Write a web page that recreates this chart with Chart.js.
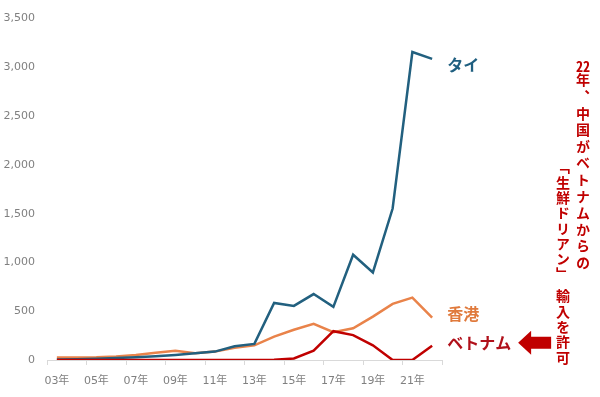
<!DOCTYPE html>
<html lang="ja">
<head>
<meta charset="utf-8">
<script src="https://cdn.jsdelivr.net/npm/chart.js@4.4.1/dist/chart.umd.min.js"></script>
<style>
	body { margin: 0; background: #fff; }
	#wrap { position: relative; width: 600px; height: 397px; }
	.note {
		position: absolute;
		writing-mode: vertical-rl;
		font-family: "Noto Sans CJK JP", sans-serif;
		font-weight: bold;
		font-size: 14px;
		line-height: 14px;
		color: #c00000;
		white-space: nowrap;
	}
	.tcy { text-combine-upright: all; }
</style>
</head>
<body>
<div id="wrap">
	<canvas id="durianChart" width="600" height="397"></canvas>
	<div class="note" style="left:576px; top:59px; letter-spacing:2.6px;"><span class="tcy">22</span>年、中国がベトナムからの</div>
	<div class="note" style="left:556px; top:160px; letter-spacing:1.3px;">「生鮮ドリアン」<span style="padding-top:7px;">輸入を許可</span></div>
</div>
<script>
"use strict";
const years = ["03年", "04年", "05年", "06年", "07年", "08年", "09年", "10年", "11年", "12年",
	"13年", "14年", "15年", "16年", "17年", "18年", "19年", "20年", "21年", "22年"];
const thai = [5, 8, 12, 20, 28, 38, 52, 68, 86, 140, 165, 585, 555, 676, 545, 1079, 898, 1553, 3157, 3087];
const hongKong = [25, 25, 27, 35, 52, 75, 96, 70, 86, 125, 150, 240, 310, 370, 285, 325, 445, 575, 640, 435];
const vietnam = [0, 0, 0, 0, 0, 0, 0, 0, 0, 0, 0, 2, 15, 95, 295, 255, 150, 0, 0, 145];
const yTicks = [0, 500, 1000, 1500, 2000, 2500, 3000, 3500];

const blue = "#22607f";
const orange = "#e9834a";
const red = "#c00000";

// line-end labels and the arrow
const labelPlugin = {
	id: "labelPlugin",
	afterDatasetsDraw(chart) {
		const ctx = chart.ctx;
		const x = chart.scales.x;
		const y = chart.scales.y;
		const last = years.length - 1;
		const lx = x.getPixelForValue(last) + 15;
		ctx.save();
		ctx.font = "bold 16px 'Noto Sans CJK JP'";
		ctx.textBaseline = "middle";
		ctx.textAlign = "left";
		ctx.fillStyle = "#1f5f80";
		ctx.fillText("タイ", lx, y.getPixelForValue(thai[last]) + 6);
		ctx.fillStyle = "#e07a3c";
		ctx.fillText("香港", lx, y.getPixelForValue(hongKong[last]) - 4);
		ctx.fillStyle = "#b0101a";
		const vy = y.getPixelForValue(vietnam[last]) - 3;
		ctx.fillText("ベトナム", lx, vy);
		// arrow pointing at the label
		const ax = lx + 71;
		ctx.fillStyle = red;
		ctx.beginPath();
		ctx.moveTo(ax, vy);
		ctx.lineTo(ax + 13, vy - 12);
		ctx.lineTo(ax + 13, vy - 6);
		ctx.lineTo(ax + 33, vy - 6);
		ctx.lineTo(ax + 33, vy + 6);
		ctx.lineTo(ax + 13, vy + 6);
		ctx.lineTo(ax + 13, vy + 12);
		ctx.closePath();
		ctx.fill();
		ctx.restore();
	},
};

const ctx = document.getElementById("durianChart").getContext("2d");
const durianChart = new Chart(ctx, {
	type: "line",
	data: {
		labels: years,
		datasets: [
			{ label: "ベトナム", data: vietnam, borderColor: red, order: 0 },
			{ label: "タイ", data: thai, borderColor: blue, order: 1 },
			{ label: "香港", data: hongKong, borderColor: orange, order: 2 },
		],
	},
	options: {
		responsive: false,
		animation: false,
		layout: { padding: { top: 13, right: 158, bottom: 0, left: 0 } },
		elements: {
			line: { borderWidth: 2.5, tension: 0 },
			point: { radius: 0 },
		},
		plugins: {
			legend: { display: false },
			tooltip: { enabled: false },
		},
		scales: {
			x: {
				offset: true,
				afterFit: (s) => { s.height = 37; },
				border: { display: true, color: "#d9d9d9", width: 1 },
				grid: {
					offset: true,
					drawOnChartArea: false,
					tickLength: 5,
					tickColor: (c) => (c.index === undefined || c.index % 2 === 0) ? "#d9d9d9" : "rgba(0,0,0,0)",
				},
				ticks: {
					autoSkip: false,
					maxRotation: 0,
					padding: 10,
					color: "#808080",
					font: { family: "'DejaVu Sans', 'Noto Sans CJK JP'", size: 11 },
					callback: (v, i) => (i % 2 === 0 ? years[i] : ""),
				},
			},
			y: {
				min: 0,
				max: 3500,
				afterFit: (s) => { s.width = 47; },
				afterBuildTicks: (s) => { s.ticks = yTicks.map((v) => ({ value: v })); },
				border: { display: false },
				grid: { display: false, drawTicks: false },
				ticks: {
					padding: 12,
					color: "#808080",
					font: { family: "'DejaVu Sans'", size: 11 },
					callback: (v) => v.toLocaleString("en-US"),
				},
			},
		},
	},
	plugins: [labelPlugin],
});
</script>
</body>
</html>
